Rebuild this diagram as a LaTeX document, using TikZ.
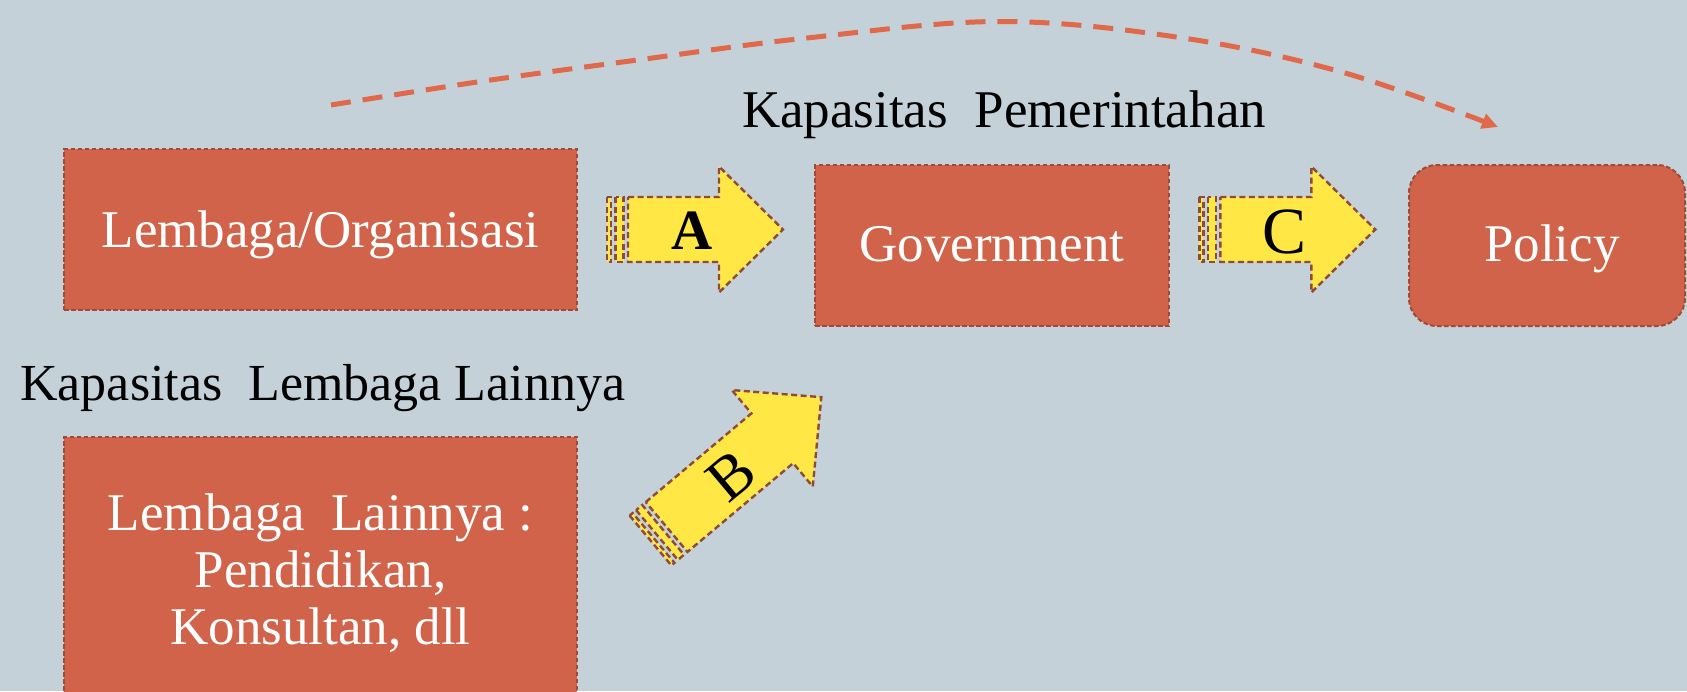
\documentclass[tikz,border=0pt]{standalone}
\usepackage{fontspec}
\setmainfont{Liberation Serif}
\usetikzlibrary{arrows.meta}
\definecolor{bgc}{HTML}{C5D1D8}
\definecolor{boxfill}{HTML}{D06349}
\definecolor{boxline}{HTML}{A04B3A}
\definecolor{arrfill}{HTML}{FFE845}
\definecolor{arrline}{HTML}{8E4A3A}
\definecolor{curvec}{HTML}{E0694B}
\newcommand{\stripedarrowshape}[1]{%
  \filldraw[arrowstyle] (0,-32.5) rectangle (4,32.5);
  \filldraw[arrowstyle] (8.5,-32.5) rectangle (16.5,32.5);
  \filldraw[arrowstyle] (21,-32.5) -- ({#1-64},-32.5) -- ({#1-64},-63) -- (#1,0) -- ({#1-64},63) -- ({#1-64},32.5) -- (21,32.5) -- cycle;}
\tikzset{
  box/.style={draw=boxline, line width=2pt, dash pattern=on 4.5pt off 2.5pt, fill=boxfill, text=white, font=\fontsize{53}{61.4}\selectfont, inner sep=0pt},
  arrowstyle/.style={fill=arrfill, draw=arrline, line width=2.4pt, dash pattern=on 6pt off 3.5pt, line join=miter},
  lbl/.style={font=\fontsize{53}{61.4}\selectfont, inner sep=0pt},
}
\begin{document}
\begin{tikzpicture}[x=1pt,y=-1pt]
\useasboundingbox (0,0) rectangle (1687,691);
\clip (0,0) rectangle (1687,691);
\fill[bgc] (0,0) rectangle (1687,691);

% boxes
\node[box, minimum width=513pt, minimum height=161pt, text height=36pt, text depth=0pt] (org) at (320.5,229.5) {Lembaga/Organisasi};
\node[box, minimum width=354pt, minimum height=161pt, text height=32pt, text depth=0pt] (gov) at (992,245.5) {Government};
\node[box, rounded corners=28pt, minimum width=276pt, minimum height=161pt, text height=32pt, text depth=0pt] (pol) at (1547,245.5) {\hspace*{10pt}Policy};
\node[box, minimum width=513pt, minimum height=363pt] (oth) at (320.5,618.5) {};
\node[lbl, text=white, align=center, anchor=base, font=\fontsize{53}{57}\selectfont] (othtxt) at (320.5,644) {Lembaga~~Lainnya :\\Pendidikan,\\Konsultan, dll};

% labels
\node[lbl, anchor=base] (kp) at (1004,127.5) {Kapasitas~~Pemerintahan};
\node[lbl, anchor=base, font=\fontsize{52}{60}\selectfont] (kl) at (322.8,400) {Kapasitas~~Lembaga Lainnya};

% arrow A
\begin{scope}[shift={(607,229.5)}]
\stripedarrowshape{176}
\end{scope}
\node[font=\bfseries\fontsize{57}{60}\selectfont, inner sep=0pt] (la) at (691.7,230.5) {A};

% arrow C
\begin{scope}[shift={(1199.3,229.5)}]
\stripedarrowshape{176}
\end{scope}
\node[font=\fontsize{66}{70}\selectfont, inner sep=0pt] (lc) at (1284,232) {C};

% arrow B
\begin{scope}[shift={(650.5,540.5)}, rotate=40]
\stripedarrowshape{223}
\end{scope}
\node[font=\fontsize{62}{66}\selectfont, inner sep=0pt, rotate=40] (lb) at (731.7,476) {B};

% dashed curve
\coordinate (cs) at (331,105);
\coordinate (ce) at (1498,127);
\draw[curvec, line width=5pt, dash pattern=on 20pt off 12pt, -{Triangle[length=16pt,width=15pt]}]
  plot[smooth, tension=0.6] coordinates {(cs) (484,81) (645,59) (807,38) (1000,21.5) (1183,38) (1345,73) (ce)};
\end{tikzpicture}
\end{document}
